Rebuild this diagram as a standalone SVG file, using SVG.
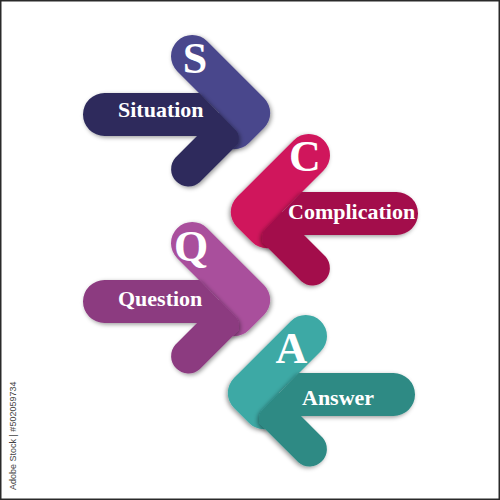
<svg xmlns="http://www.w3.org/2000/svg" xmlns:xlink="http://www.w3.org/1999/xlink" width="500" height="500" viewBox="0 0 500 500">
<style>
.band{fill:none;stroke-width:42.4;stroke-linecap:round;stroke-linejoin:round}
.letter{font-family:"Liberation Serif","Times New Roman",serif;font-weight:bold;font-size:44px;fill:#fff;text-anchor:middle}
.label{font-family:"Liberation Serif","Times New Roman",serif;font-weight:bold;font-size:22px;fill:#fff}
.credit{font-family:"Liberation Sans",Arial,sans-serif;font-size:9px;fill:#444}
</style>
<defs>
<filter id="sh" filterUnits="userSpaceOnUse" x="-50" y="-50" width="600" height="600">
<feDropShadow dx="1.5" dy="1.5" stdDeviation="2" flood-color="#000" flood-opacity="0.4"/>
</filter>
<polyline id="lightR" class="band" points="192.2,56.2 249,113 234,128"/>
<path id="darkR" d="M104.5 93H199.5L236 130.5Q240 134.5 238.5 143.5L199.7 182.2A17.3 17.3 0 0 1 175.3 157.8L197 136H104.5A21.5 21.5 0 0 1 104.5 93Z"/>
</defs>
<rect x="0.75" y="0.75" width="498.5" height="498.5" fill="#fff" stroke="#2a2a2a" stroke-width="1.5"/>

<g id="node-situation">
<use href="#lightR" style="stroke:#4a468c" filter="url(#sh)"/>
<use href="#darkR" fill="#2e2c5c" filter="url(#sh)"/>
<text class="letter" x="195" y="73">S</text>
<text class="label" x="118" y="117">Situation</text>
</g>

<g id="node-complication">
<g transform="translate(501,99) scale(-1,1)">
<use href="#lightR" style="stroke:#d0145c" filter="url(#sh)"/>
<use href="#darkR" fill="#a30f4b" filter="url(#sh)"/>
</g>
<text class="letter" x="305" y="171">C</text>
<text class="label" x="288" y="218.5">Complication</text>
</g>

<g id="node-question">
<g transform="translate(0,187)">
<use href="#lightR" style="stroke:#a94f9c" filter="url(#sh)"/>
<use href="#darkR" fill="#8c3b80" filter="url(#sh)"/>
</g>
<text class="letter" x="191" y="261">Q</text>
<text class="label" x="118" y="306">Question</text>
</g>

<g id="node-answer">
<g transform="translate(498,280) scale(-1,1)">
<use href="#lightR" style="stroke:#3ca9a5" filter="url(#sh)"/>
<use href="#darkR" fill="#2d8a84" filter="url(#sh)"/>
</g>
<text class="letter" x="291.5" y="363">A</text>
<text class="label" x="302" y="404.5">Answer</text>
</g>

<g id="connectors"></g>

<text class="credit" transform="translate(16,490) rotate(-90)">Adobe Stock | #502059734</text>
</svg>
